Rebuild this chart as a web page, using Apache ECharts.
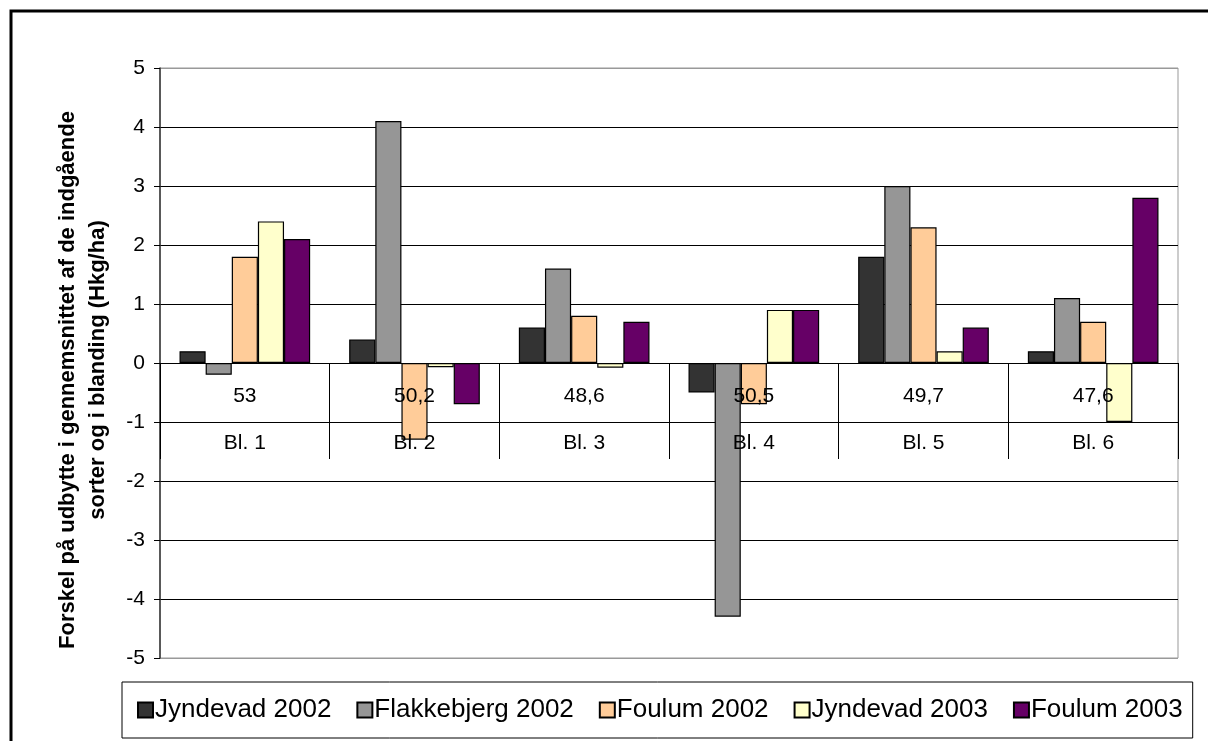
<!DOCTYPE html>
<html>
<head>
<meta charset="utf-8">
<script src="https://cdn.jsdelivr.net/npm/echarts@6/dist/echarts.min.js"></script>
<style>
  html, body { margin: 0; padding: 0; background: #fff; }
  #main { width: 1208px; height: 741px; }
</style>
</head>
<body>
<div id="main"></div>
<script>
// blokke og gennemsnitsudbytte (nederste / øverste etiketrække)
const categories = ["Bl. 1", "Bl. 2", "Bl. 3", "Bl. 4", "Bl. 5", "Bl. 6"];
const avgYield = ["53", "50,2", "48,6", "50,5", "49,7", "47,6"];

// forskel i Hkg/ha
const jyndevad2002 = [0.2, 0.4, 0.6, -0.5, 1.8, 0.2];
const flakkebjerg2002 = [-0.2, 4.1, 1.6, -4.3, 3.0, 1.1];
const foulum2002 = [1.8, -1.3, 0.8, -0.7, 2.3, 0.7];
const jyndevad2003 = [2.4, -0.07, -0.08, 0.9, 0.2, -1.0];
const foulum2003 = [2.1, -0.7, 0.7, 0.9, 0.6, 2.8];

const font = "'Liberation Sans', Arial, sans-serif";

function bar(name, data, color) {
  return {
    name: name,
    type: "bar",
    data: data,
    barGap: "0%",
    barCategoryGap: "23%",
    itemStyle: { color: color, borderColor: "#000", borderWidth: 1.2 }
  };
}

let myChart = echarts.init(document.getElementById("main"));
let option = {
  animation: false,
  backgroundColor: "#fff",
  textStyle: { fontFamily: font, color: "#000" },
  grid: {
    left: 160,
    right: 30,
    top: 68,
    bottom: 83,
    show: true,
    borderColor: "#999",
    borderWidth: 1
  },
  legend: {
    left: 122,
    top: 682,
    width: 1080,
    padding: [15, 10, 15, 15],
    itemGap: 25,
    itemWidth: 15,
    itemHeight: 15,
    icon: "rect",
    borderColor: "#000",
    borderWidth: 1,
    textStyle: { fontSize: 26, fontFamily: font, color: "#000", padding: [0, 0, 0, -3] },
    data: ["Jyndevad 2002", "Flakkebjerg 2002", "Foulum 2002", "Jyndevad 2003", "Foulum 2003"]
  },
  xAxis: {
    type: "category",
    data: categories,
    z: 5,
    // aksen flyttes op til 0-linjen, så etiketterne følger med
    offset: -295,
    axisLine: { onZero: false, lineStyle: { color: "#000", width: 1 } },
    axisTick: { show: true, interval: 0, length: 96, lineStyle: { color: "#000" } },
    axisLabel: {
      interval: 0,
      margin: 10,
      formatter: function (v, i) {
        return "{a|" + avgYield[i] + "}\n{b|" + v + "}";
      },
      rich: {
        a: { fontSize: 21, lineHeight: 47, fontFamily: font, color: "#000" },
        b: { fontSize: 21, lineHeight: 47, fontFamily: font, color: "#000" }
      }
    }
  },
  yAxis: {
    type: "value",
    min: -5,
    max: 5,
    interval: 1,
    axisLine: { show: true, lineStyle: { color: "#333", width: 1.5 } },
    axisTick: { show: true, length: 6, lineStyle: { color: "#000" } },
    axisLabel: { fontSize: 21, margin: 15, color: "#000", fontFamily: font },
    splitLine: {
      lineStyle: {
        color: ["#999", "#000", "#000", "#000", "#000", "#000", "#000", "#000", "#000", "#000", "#999"],
        width: 1
      }
    }
  },
  graphic: [
    {
      type: "rect",
      shape: { x: 11, y: 11, width: 1400, height: 900 },
      style: { fill: null, stroke: "#000", lineWidth: 3 },
      silent: true
    },
    {
      type: "text",
      x: 68,
      y: 380,
      rotation: Math.PI / 2,
      style: {
        text: "Forskel på udbytte i gennemsnittet af de indgående",
        font: "bold 22px " + font,
        fill: "#000",
        textAlign: "center",
        textVerticalAlign: "middle"
      }
    },
    {
      type: "text",
      x: 98,
      y: 370,
      rotation: Math.PI / 2,
      style: {
        text: "sorter og i blanding (Hkg/ha)",
        font: "bold 22px " + font,
        fill: "#000",
        textAlign: "center",
        textVerticalAlign: "middle"
      }
    }
  ],
  series: [
    bar("Jyndevad 2002", jyndevad2002, "#333333"),
    bar("Flakkebjerg 2002", flakkebjerg2002, "#969696"),
    bar("Foulum 2002", foulum2002, "#FFCC99"),
    bar("Jyndevad 2003", jyndevad2003, "#FFFFCC"),
    bar("Foulum 2003", foulum2003, "#660066")
  ]
};
myChart.setOption(option);
</script>
</body>
</html>
